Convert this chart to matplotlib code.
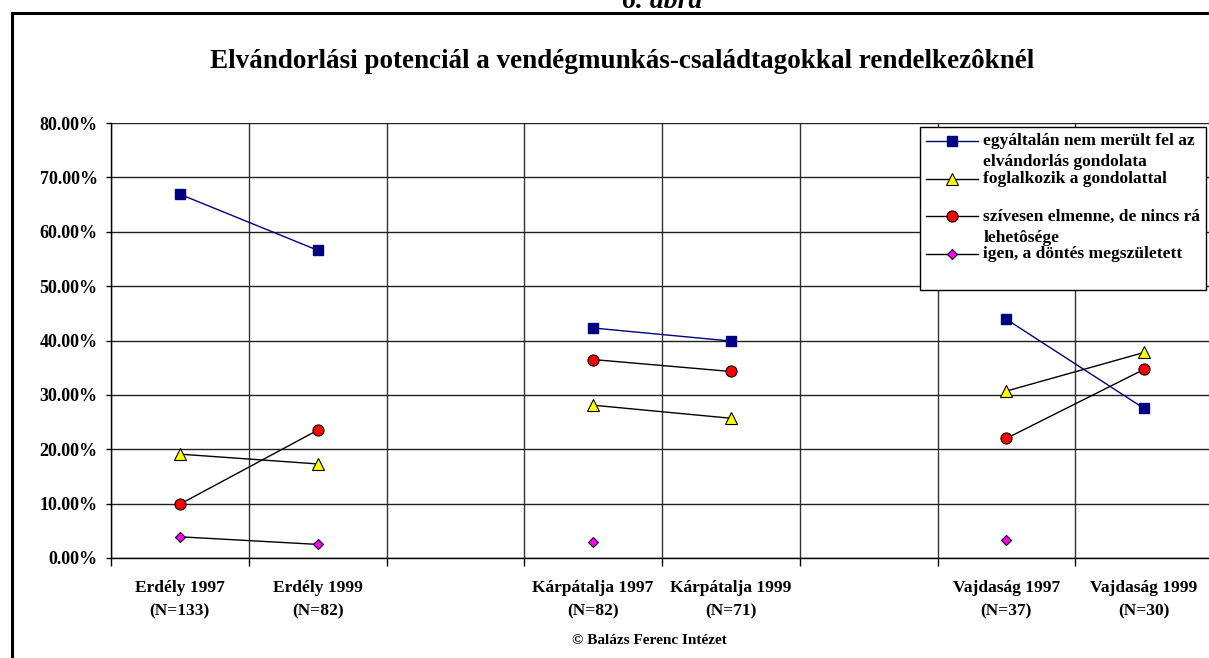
import numpy as np
import matplotlib
matplotlib.use("Agg")
import matplotlib.pyplot as plt
from matplotlib.patches import Rectangle
from matplotlib.legend_handler import HandlerLine2D

plt.rcParams['font.family'] = ['Liberation Serif', 'DejaVu Serif']
plt.rcParams['font.weight'] = 'bold'

# categories (empty slots separate the regions)
categories = ["Erdély 1997\n(N=133)", "Erdély 1999\n(N=82)", "", "Kárpátalja 1997\n(N=82)",
              "Kárpátalja 1999\n(N=71)", "", "Vajdaság 1997\n(N=37)", "Vajdaság 1999\n(N=30)"]
nan = np.nan
nem_merult_fel = [66.9, 56.6, nan, 42.3, 39.9, nan, 43.9, 27.5]
foglalkozik = [19.1, 17.3, nan, 28.1, 25.7, nan, 30.7, 37.8]
szivesen = [9.9, 23.5, nan, 36.5, 34.3, nan, 22.0, 34.7]
dontes = [3.9, 2.5, nan, 3.0, nan, nan, 3.4, nan]

labels = ["egyáltalán nem merült fel az\nelvándorlás gondolata",
          "foglalkozik a gondolattal\n ",
          "szívesen elmenne, de nincs rá\nlehetôsége",
          "igen, a döntés megszületett\n "]

W, H = 1209, 658
fig = plt.figure(figsize=(W / 100, H / 100), dpi=100)
ax = fig.add_axes([111 / W, 1 - 558 / H, 1102 / W, 435 / H])

x = np.arange(len(categories))
l1, = ax.plot(x, nem_merult_fel, color='#000080', lw=1, marker='s', ms=7.5,
              mfc='#000080', mec='#000080')
l2, = ax.plot(x, foglalkozik, color='black', lw=1, marker='^', ms=8.5,
              mfc='#ffff00', mec='black', mew=0.8)
l3, = ax.plot(x, szivesen, color='black', lw=1, marker='o', ms=8,
              mfc='#ff0000', mec='black', mew=0.8)
l4, = ax.plot(x, dontes, color='black', lw=1, marker='D', ms=5.5,
              mfc='#ff00ff', mec='black', mew=0.8)

ax.set_xlim(-0.5, len(categories) - 0.5)
ax.set_ylim(0, 80)
ax.set_yticks(np.arange(0, 81, 10))
ax.set_yticklabels([f"{v:.2f}%" for v in np.arange(0, 81, 10)], fontsize=13, fontweight='bold')
ax.set_xticks(x)
ax.set_xticklabels(categories, fontsize=12.5, fontweight='bold', linespacing=1.6)
ax.set_xticks(np.arange(-0.5, len(categories), 1), minor=True)
ax.tick_params(axis='x', which='major', length=0, pad=16)
ax.tick_params(axis='x', which='minor', length=6, width=1, color='black', direction='out')
ax.tick_params(axis='y', length=3.6, width=1, direction='out', pad=6)
ax.grid(axis='y', color='#222222', lw=1)
ax.grid(axis='x', which='minor', color='#333333', lw=1)
ax.set_axisbelow(True)
for side in ['top', 'right']:
    ax.spines[side].set_visible(False)
for side in ['left', 'bottom']:
    ax.spines[side].set_color('black')
    ax.spines[side].set_linewidth(1)


class TopHandler(HandlerLine2D):
    # put the marker on the first line of a two-line label
    def create_artists(self, legend, orig_handle, xdescent, ydescent, width, height, fontsize, trans):
        artists = super().create_artists(legend, orig_handle, xdescent, ydescent, width,
                                         height, fontsize, trans)
        for a in artists:
            a.set_ydata([y + 0.63 * fontsize for y in a.get_ydata()])
        return artists


leg = fig.legend([l1, l2, l3, l4], labels, loc='upper left',
                 bbox_to_anchor=(920 / W, 1 - 127 / H), borderaxespad=0,
                 prop={'size': 12.5, 'weight': 'bold'}, frameon=True, fancybox=False,
                 edgecolor='black', framealpha=1, borderpad=0.35, labelspacing=0.02,
                 handlelength=3.0, handletextpad=0.3,
                 handler_map={l: TopHandler() for l in [l1, l2, l3, l4]})
leg.get_frame().set_linewidth(1)
for t in leg.get_texts():
    t.set_linespacing(1.45)

fig.text(622 / W, 1 - 62 / H, "Elvándorlási potenciál a vendégmunkás-családtagokkal rendelkezôknél",
         ha='center', va='center', fontsize=19.5, fontweight='bold')
fig.text(662 / W, 1 - 8 / H, "6. ábra", ha='center', va='baseline', fontsize=20,
         fontweight='bold', style='italic')
fig.text(649 / W, 1 - 641 / H, "© Balázs Ferenc Intézet", ha='center', va='center',
         fontsize=11, fontweight='bold')

fig.patches.append(Rectangle((12 / W, -0.05), 1.2, 1 - 13 / H + 0.05, transform=fig.transFigure,
                             fill=False, edgecolor='black', lw=2.2, clip_on=False))

fig.savefig("out.png", dpi=100)
